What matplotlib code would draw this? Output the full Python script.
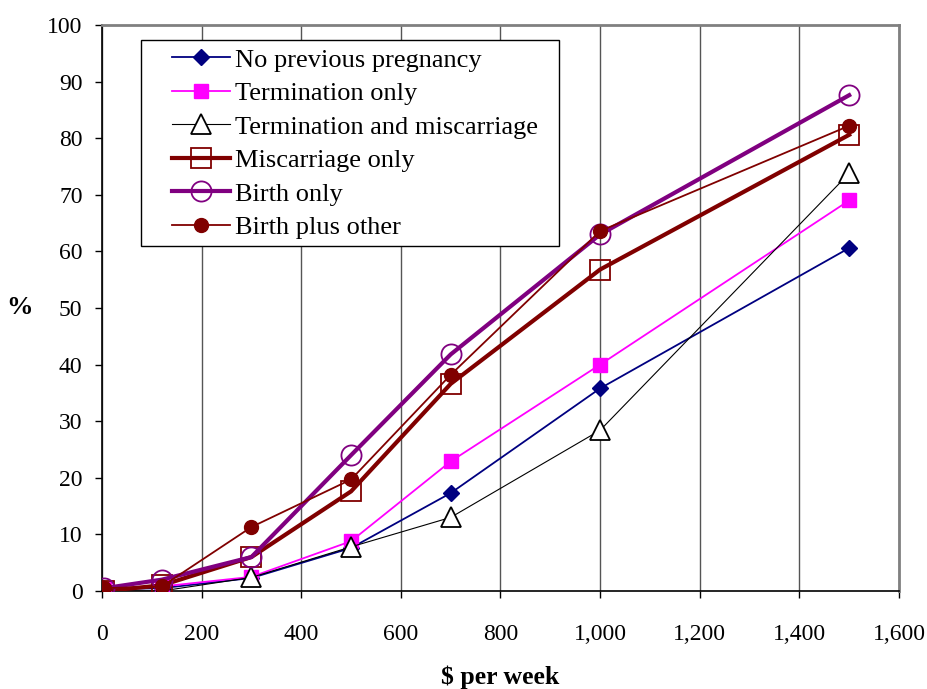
import matplotlib
matplotlib.use("Agg")
import matplotlib.pyplot as plt
from matplotlib.ticker import FuncFormatter, MultipleLocator
from matplotlib.patches import Rectangle

plt.rcParams['font.family'] = ['Liberation Serif', 'DejaVu Serif']

x = [5, 120, 300, 500, 700, 1000, 1500]
no_previous = [0.3, 0.5, 2.3, 7.6, 17.3, 35.8, 60.6]
termination_only = [0.3, 0.8, 2.5, 8.8, 22.9, 40.0, 69.0]
term_miscarriage = [0.0, 0.0, 2.4, 7.8, 13.0, 28.4, 73.8]
miscarriage_only = [0.0, 1.0, 6.0, 17.6, 36.6, 56.8, 80.6]
birth_only = [0.5, 2.0, 6.0, 24.0, 41.8, 63.0, 87.6]
birth_plus_other = [0.5, 0.8, 11.3, 19.7, 38.2, 63.6, 82.2]

fig = plt.figure(figsize=(9.28, 6.89), dpi=100)
ax = fig.add_axes([102/928, 1-591/689, 797/928, 566/689])

ax.plot(x, no_previous, color='#000080', lw=1.3, marker='D', ms=8, mfc='#000080', mec='#000080',
        label='No previous pregnancy', zorder=3)
ax.plot(x, termination_only, color='#FF00FF', lw=1.3, marker='s', ms=9.5, mfc='#FF00FF', mec='#FF00FF',
        label='Termination only', zorder=3)
ax.plot(x, term_miscarriage, color='black', lw=0.8, marker='^', ms=14.5, mfc='white', mec='black', mew=1.3,
        label='Termination and miscarriage', zorder=3)
ax.plot(x, miscarriage_only, color='#800000', lw=3, marker='s', ms=14.5, mfc='none', mec='#800000', mew=1.3,
        label='Miscarriage only', zorder=3)
ax.plot(x, birth_only, color='#800080', lw=3, marker='o', ms=14.5, mfc='none', mec='#800080', mew=1.3,
        label='Birth only', zorder=4)
ax.plot(x, birth_plus_other, color='#800000', lw=1.3, marker='o', ms=10, mfc='#800000', mec='#800000',
        label='Birth plus other', zorder=4)

ax.set_xlim(0, 1600)
ax.set_ylim(0, 100)
ax.xaxis.set_major_locator(MultipleLocator(200))
ax.yaxis.set_major_locator(MultipleLocator(10))
ax.xaxis.set_major_formatter(FuncFormatter(lambda v, p: f"{int(v):,}"))
ax.grid(axis='x', color='#555555', lw=1)
ax.set_axisbelow(True)

for s in ['top', 'right']:
    ax.spines[s].set_color('#808080')
    ax.spines[s].set_linewidth(2)
for s in ['left', 'bottom']:
    ax.spines[s].set_color('black')
    ax.spines[s].set_linewidth(1.2)

ax.tick_params(axis='both', labelsize=17, direction='out', length=5, width=1)
ax.tick_params(axis='x', pad=18.5)
ax.tick_params(axis='y', pad=9)
ax.set_xlabel('$ per week', fontsize=18.5, fontweight='bold', labelpad=15)
ax.set_ylabel('%', fontsize=19, fontweight='bold', rotation=0, va='center', ha='center')
ax.yaxis.set_label_coords(-0.103, 0.5)

# legend frame drawn separately to match the asymmetric padding
frame = Rectangle((0.0489, 0.6095), 0.5245, 0.364, transform=ax.transAxes,
                  facecolor='white', edgecolor='black', lw=1, zorder=5)
ax.add_patch(frame)

leg = ax.legend(loc='upper left', bbox_to_anchor=(0.0878, 0.959), fontsize=19, frameon=False,
                borderpad=0, labelspacing=0.38, handlelength=2.2, handletextpad=0.2,
                borderaxespad=0)
leg.set_zorder(6)

fig.savefig('out.png', dpi=100)
